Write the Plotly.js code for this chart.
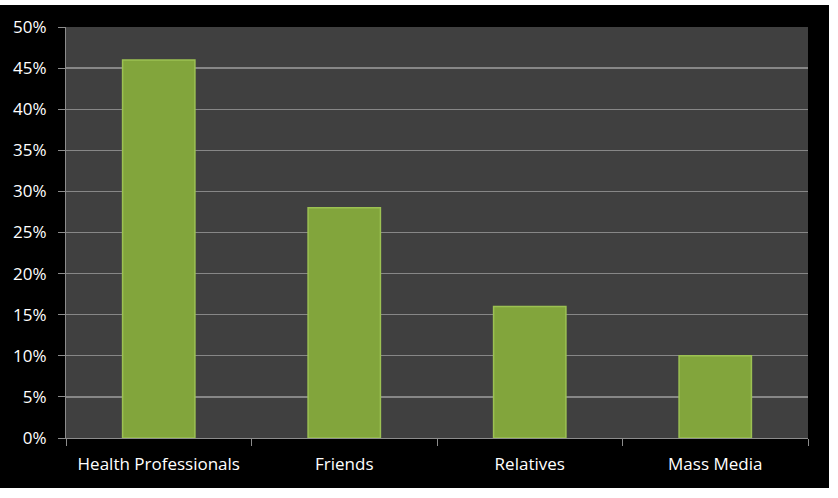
<!DOCTYPE html>
<html>
<head>
<meta charset="utf-8">
<script src="https://cdn.plot.ly/plotly-3.0.1.min.js"></script>
<style>
html,body{margin:0;padding:0;background:#ffffff;width:838px;height:498px;overflow:hidden;}
#chart{position:absolute;left:0;top:5px;width:829px;height:483px;}
</style>
</head>
<body>
<div id="chart"></div>
<script>
const categories = ["Health Professionals", "Friends", "Relatives", "Mass Media"];
const shares = [0.46, 0.28, 0.16, 0.10];
const yTickValues = [0, 0.05, 0.10, 0.15, 0.20, 0.25, 0.30, 0.35, 0.40, 0.45, 0.50];

const trace = {
  type: "bar",
  x: categories,
  y: shares,
  marker: {
    color: "#82a53c",
    line: {color: "#9cc152", width: 1.5}
  },
  hoverinfo: "x+y"
};

const layout = {
  width: 829,
  height: 483,
  paper_bgcolor: "#000000",
  plot_bgcolor: "#404040",
  margin: {l: 66, r: 21, t: 22, b: 50},
  bargap: 0.61,
  showlegend: false,
  font: {family: "Open Sans, sans-serif", size: 17, color: "#ffffff"},
  xaxis: {
    type: "category",
    showline: true,
    linecolor: "#8c8c8c",
    linewidth: 1,
    ticks: "outside",
    tickson: "boundaries",
    ticklen: 7,
    tickcolor: "#8c8c8c",
    ticklabelstandoff: 11,
    showgrid: false,
    tickfont: {family: "Open Sans, sans-serif", size: 17, color: "#ffffff"}
  },
  yaxis: {
    range: [0, 0.5],
    tickvals: yTickValues,
    tickformat: ".0%",
    showline: true,
    linecolor: "#8c8c8c",
    linewidth: 1,
    ticks: "outside",
    ticklen: 7,
    tickcolor: "#8c8c8c",
    ticklabelstandoff: 8,
    showgrid: true,
    gridcolor: "#878787",
    gridwidth: 1.3,
    zeroline: false,
    tickfont: {family: "Open Sans, sans-serif", size: 17, color: "#ffffff"}
  }
};

Plotly.newPlot("chart", [trace], layout, {displayModeBar: false, staticPlot: true});
</script>
</body>
</html>
